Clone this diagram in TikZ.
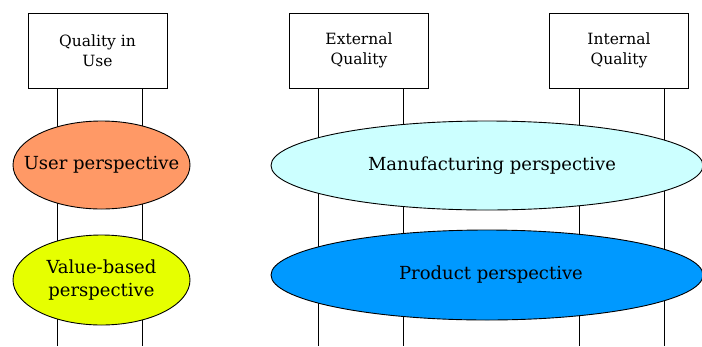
\documentclass[tikz,border=0pt]{standalone}
\usepackage{fontspec}
\setmainfont{DejaVu Serif}
\usetikzlibrary{shapes.geometric}
\definecolor{userc}{HTML}{FF9966}
\definecolor{valuec}{HTML}{E6FF00}
\definecolor{manc}{HTML}{CCFFFF}
\definecolor{prodc}{HTML}{0099FF}
\begin{document}
\begin{tikzpicture}[x=1pt,y=-1pt,
  qbox/.style={draw, line width=1pt, minimum width=139pt, minimum height=75pt, inner sep=0pt, align=center, font=\fontsize{15.5}{20}\selectfont},
  persp/.style={ellipse, draw, line width=0.9pt, inner sep=0pt},
  ptext/.style={align=center, inner sep=0pt, font=\fontsize{18}{23}\selectfont},
  vline/.style={line width=1pt}]
\clip (0,0) rectangle (702,346);
\fill[white] (0,0) rectangle (702,346);
% lines
\coordinate (a1) at (57,88); \coordinate (a1e) at (57,346);
\coordinate (a2) at (142,88); \coordinate (a2e) at (142,346);
\coordinate (b1) at (318,88); \coordinate (b1e) at (318,346);
\coordinate (b2) at (403,88); \coordinate (b2e) at (403,346);
\coordinate (c1) at (579,88); \coordinate (c1e) at (579,346);
\coordinate (c2) at (664,88); \coordinate (c2e) at (664,346);
\foreach \p in {a1,a2,b1,b2,c1,c2} \draw[vline] (\p) -- (\p e);
% boxes
\node[qbox, fill=white] (qiu) at (97.5,50.5) {Quality in\\Use};
\node[qbox, fill=white] (ext) at (359,50.5) {External\\Quality};
\node[qbox, fill=white] (int) at (619,50.5) {Internal\\Quality};
% ellipses
\node[persp, fill=userc, minimum width=177pt, minimum height=88pt] (user) at (101.5,165) {};
\node[ptext] (usert) at (user.center) {User perspective};
\node[persp, fill=valuec, minimum width=177pt, minimum height=90pt] (value) at (101.5,280) {};
\node[ptext] (valuet) at (value.center) {Value-based\\perspective};
\node[persp, fill=manc, minimum width=432pt, minimum height=89pt] (man) at (487,165.5) {};
\node[ptext] (mant) at ([xshift=5pt]man.center) {Manufacturing perspective};
\node[persp, fill=prodc, minimum width=432pt, minimum height=90pt] (prod) at (487,275) {};
\node[ptext] (prodt) at ([xshift=4pt]prod.center) {Product perspective};
\end{tikzpicture}
\end{document}
